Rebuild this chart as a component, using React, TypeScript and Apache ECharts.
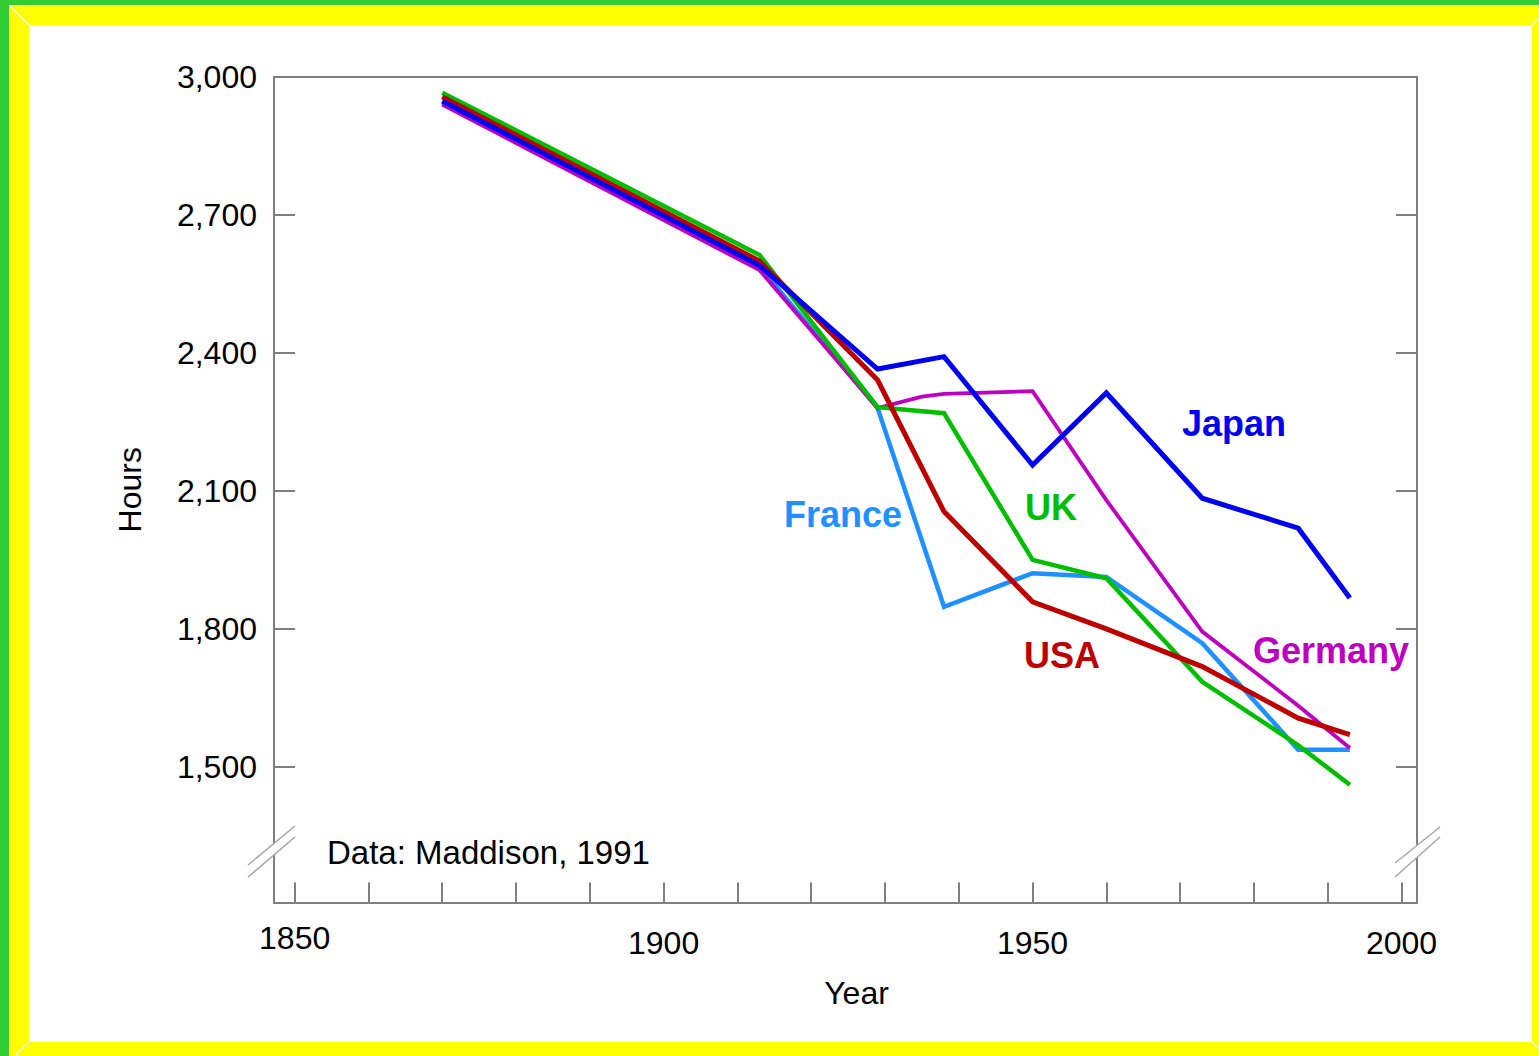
import React, { useEffect, useRef } from "react";
import * as echarts from "echarts";

// ---- Data (hours worked per person per year) ----
const years = [1870, 1913, 1929, 1938, 1950, 1960, 1973, 1986, 1993];
const japanHours = [2948, 2590, 2365, 2392, 2156, 2313, 2084, 2019, 1867];
const franceHours = [2945, 2588, 2280, 1848, 1921, 1913, 1769, 1537, 1537];
const ukHours = [2966, 2613, 2282, 2269, 1950, 1910, 1685, 1547, 1461];
const usaHours = [2957, 2600, 2341, 2055, 1859, 1800, 1718, 1606, 1570];
const germanyYears = [1870, 1913, 1929, 1935, 1938, 1950, 1960, 1973, 1986, 1993];
const germanyHours = [2940, 2580, 2280, 2305, 2311, 2317, 2080, 1794, 1633, 1541];

const xTickValues = [1850, 1860, 1870, 1880, 1890, 1900, 1910, 1920, 1930, 1940, 1950, 1960, 1970, 1980, 1990, 2000];
const xLabelValues = [1850, 1900, 1950, 2000];
const yTickValues = [1500, 1800, 2100, 2400, 2700, 3000];

const seriesNames = ["France", "Germany", "UK", "USA", "Japan"];

const FONT = "'Liberation Sans', Arial, Helvetica, sans-serif";
const AXIS = "#7f7f7f";

export default function App() {
  const ref = useRef<HTMLDivElement>(null);

  useEffect(() => {
    if (!ref.current) return;
    const chart = echarts.init(ref.current, null, { renderer: "svg" });

    const pair = (xs: number[], ys: number[]) => xs.map((x, i) => [x, ys[i]]);

    const xMin = 1847.2;
    const xMax = 2002.1;
    const yMin = 1205;
    const yMax = 3000;

    const lineSeries = (name: string, data: number[][], color: string, width: number) => ({
      name,
      type: "line",
      data,
      showSymbol: false,
      symbol: "none",
      lineStyle: { color, width, join: "miter" },
      itemStyle: { color },
      z: 3,
    });

    const breakMark = (pts: number[][]) => [
      {
        type: "polygon",
        shape: { points: pts },
        style: { fill: "#ffffff" },
        z: 100,
      },
      {
        type: "line",
        shape: { x1: pts[0][0], y1: pts[0][1], x2: pts[1][0], y2: pts[1][1] },
        style: { stroke: "#a6a6a6", lineWidth: 1.5 },
        z: 101,
      },
      {
        type: "line",
        shape: { x1: pts[3][0], y1: pts[3][1], x2: pts[2][0], y2: pts[2][1] },
        style: { stroke: "#a6a6a6", lineWidth: 1.5 },
        z: 101,
      },
    ];

    const label = (text: string, x: number, y: number, color: string) => ({
      type: "text",
      x,
      y,
      z: 50,
      style: {
        text,
        fill: color,
        font: `bold 36px ${FONT}`,
        textAlign: "center",
        textVerticalAlign: "middle",
      },
    });

    const bevel = (x1: number, y1: number, x2: number, y2: number) => ({
      type: "line",
      shape: { x1, y1, x2, y2 },
      style: { stroke: "#ffffff", lineWidth: 1 },
      z: 60,
    });

    const option = {
      animation: false,
      backgroundColor: "transparent",
      textStyle: { fontFamily: FONT },
      grid: { left: 274, right: 122, top: 77, bottom: 153.5, containLabel: false },
      xAxis: [
        {
          type: "value",
          position: "bottom",
          min: xMin,
          max: xMax,
          name: "Year",
          nameLocation: "middle",
          nameGap: 74,
          nameTextStyle: { fontSize: 32, color: "#000", fontFamily: FONT, padding: [0, 0, 0, 22] },
          axisLine: { show: true, lineStyle: { color: AXIS, width: 2 } },
          axisTick: {
            show: true,
            inside: true,
            length: 20,
            customValues: xTickValues,
            lineStyle: { color: AXIS, width: 2 },
          },
          axisLabel: {
            show: true,
            customValues: xLabelValues,
            margin: 24,
            fontSize: 32,
            color: "#000",
            fontFamily: FONT,
            formatter: (v: number) => (v === 1850 ? "{hi|1850}" : String(v)),
            rich: { hi: { fontSize: 32, lineHeight: 22, color: "#000", fontFamily: FONT } },
          },
          splitLine: { show: false },
        },
        {
          type: "value",
          position: "top",
          min: xMin,
          max: xMax,
          axisLine: { show: true, lineStyle: { color: AXIS, width: 2 } },
          axisTick: { show: false },
          axisLabel: { show: false },
          splitLine: { show: false },
        },
      ],
      yAxis: [
        {
          type: "value",
          position: "left",
          min: yMin,
          max: yMax,
          name: "Hours",
          nameLocation: "middle",
          nameGap: 128,
          nameRotate: 90,
          nameTextStyle: { fontSize: 32, color: "#000", fontFamily: FONT },
          axisLine: { show: true, lineStyle: { color: AXIS, width: 2 } },
          axisTick: {
            show: true,
            inside: true,
            length: 21,
            customValues: yTickValues,
            lineStyle: { color: AXIS, width: 2 },
          },
          axisLabel: {
            show: true,
            customValues: yTickValues,
            margin: 17,
            fontSize: 32,
            color: "#000",
            fontFamily: FONT,
            formatter: (v: number) => v.toLocaleString("en-US"),
          },
          splitLine: { show: false },
        },
        {
          type: "value",
          position: "right",
          min: yMin,
          max: yMax,
          axisLine: { show: true, lineStyle: { color: AXIS, width: 2 } },
          axisTick: {
            show: true,
            inside: true,
            length: 21,
            customValues: yTickValues,
            lineStyle: { color: AXIS, width: 2 },
          },
          axisLabel: { show: false },
          splitLine: { show: false },
        },
      ],
      series: [
        lineSeries(seriesNames[0], pair(years, franceHours), "#1e90ff", 4.5),
        lineSeries(seriesNames[1], pair(germanyYears, germanyHours), "#c000c0", 3.8),
        lineSeries(seriesNames[2], pair(years, ukHours), "#00bf00", 4.5),
        lineSeries(seriesNames[3], pair(years, usaHours), "#bf0000", 5),
        lineSeries(seriesNames[4], pair(years, japanHours), "#0000f0", 5),
      ],
      graphic: [
        bevel(10, 6, 29, 25),
        bevel(1532, 25, 1540, 17),
        bevel(1532, 1042, 1546, 1056),
        bevel(29, 1042, 15, 1056),
        ...breakMark([
          [248, 865],
          [295, 826],
          [295, 837],
          [248, 877],
        ]),
        ...breakMark([
          [1395, 863],
          [1440, 827],
          [1440, 837],
          [1395, 877],
        ]),
        label("Japan", 1234, 423, "#0000f0"),
        label("France", 843, 514, "#1e90ff"),
        label("UK", 1051, 507, "#00bf00"),
        label("USA", 1062, 655, "#bf0000"),
        label("Germany", 1331, 650, "#c000c0"),
        {
          type: "text",
          x: 327,
          y: 852,
          z: 50,
          style: {
            text: "Data: Maddison, 1991",
            fill: "#000",
            font: `33px ${FONT}`,
            textAlign: "left",
            textVerticalAlign: "middle",
          },
        },
      ],
    };

    chart.setOption(option as any);
    return () => chart.dispose();
  }, []);

  return (
    <div
      style={{
        position: "fixed",
        left: 0,
        top: 0,
        width: 1539,
        height: 1056,
        background: "#32cd32",
        overflow: "hidden",
      }}
    >
      <div style={{ position: "absolute", left: 9, top: 5, width: 1600, height: 1100, background: "#ffffff" }} />
      <div style={{ position: "absolute", left: 10, top: 6, width: 1600, height: 1100, background: "#ffff00" }} />
      <div style={{ position: "absolute", left: 29, top: 25, width: 1503, height: 1017, background: "#ffffff" }} />
      <div ref={ref} style={{ position: "absolute", left: 0, top: 0, width: 1539, height: 1056 }} />
    </div>
  );
}
